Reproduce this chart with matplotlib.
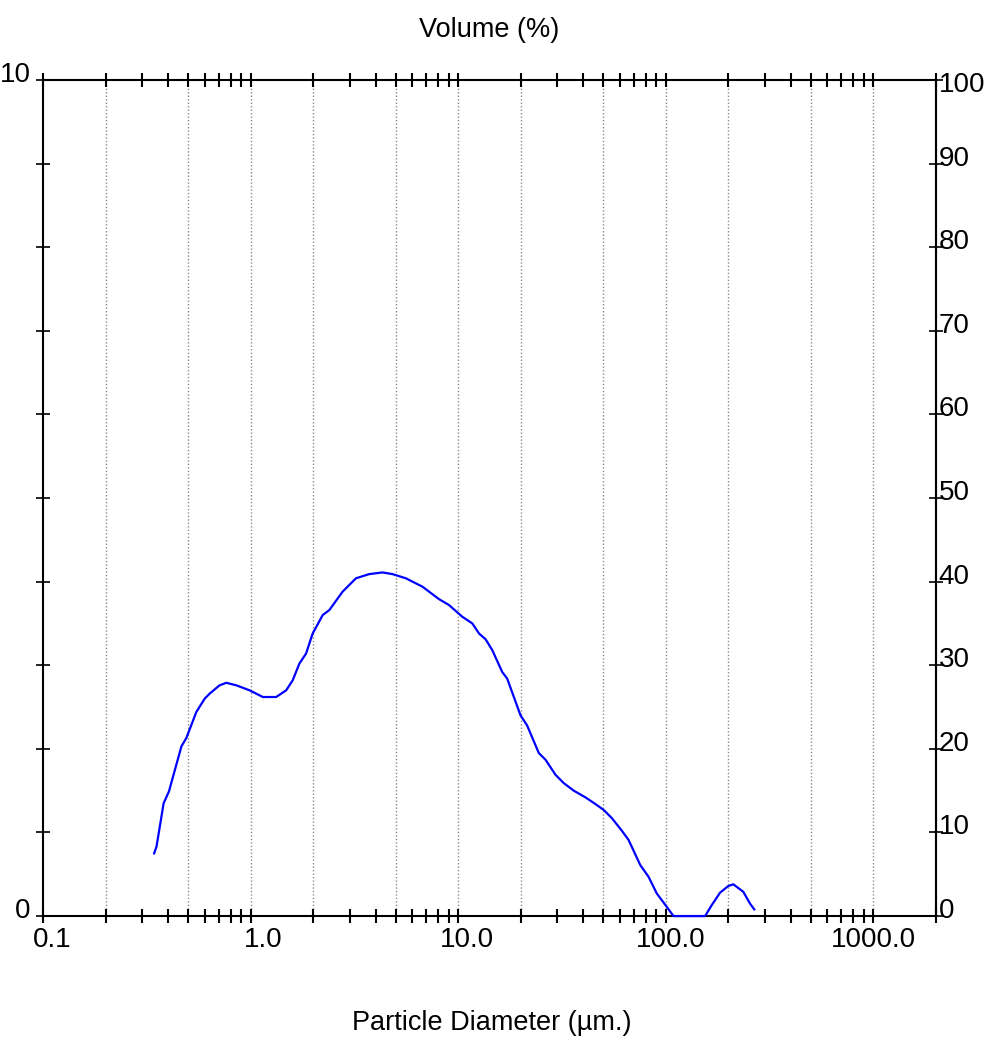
import matplotlib
matplotlib.use("Agg")
import matplotlib.pyplot as plt
from matplotlib.ticker import FixedLocator, LogLocator, NullFormatter
import matplotlib.transforms as mtransforms

# particle size distribution
diameter_um = [0.342, 0.351, 0.380, 0.403, 0.422, 0.463, 0.489, 0.546, 0.599,
               0.633, 0.707, 0.762, 0.851, 0.986, 1.062, 1.142, 1.325, 1.480,
               1.592, 1.714, 1.846, 1.987, 2.220, 2.390, 2.769, 3.212, 3.721,
               4.311, 4.817, 5.586, 6.713, 8.077, 9.02, 10.45, 11.68, 12.58,
               13.54, 14.58, 16.27, 17.20, 19.95, 21.46, 24.43, 26.32, 29.40,
               32.23, 36.00, 40.98, 45.78, 50.17, 55.02, 61.44, 66.18, 75.33,
               82.58, 90.50, 95.68, 101.1, 108.9, 154.7, 166.4, 182.6, 200.2,
               211.6, 236.4, 254.5, 266.9]
volume_pct = [0.75, 0.83, 1.35, 1.49, 1.67, 2.03, 2.13, 2.44, 2.60,
              2.66, 2.76, 2.79, 2.76, 2.70, 2.66, 2.62, 2.62, 2.70,
              2.82, 3.02, 3.14, 3.38, 3.60, 3.66, 3.88, 4.04, 4.09,
              4.11, 4.09, 4.04, 3.94, 3.79, 3.72, 3.58, 3.50, 3.38,
              3.31, 3.18, 2.92, 2.84, 2.40, 2.28, 1.95, 1.87, 1.69,
              1.59, 1.50, 1.42, 1.34, 1.27, 1.17, 1.02, 0.91, 0.61,
              0.47, 0.27, 0.19, 0.11, 0.0, 0.0, 0.13, 0.28, 0.36,
              0.38, 0.29, 0.15, 0.08]

grid_x = [0.2, 0.5, 1, 2, 5, 10, 20, 50, 100, 200, 500, 1000]
x_ticks = [0.1, 1, 10, 100, 1000]
x_labels = ["0.1", "1.0", "10.0", "100.0", "1000.0"]
left_ticks = list(range(0, 11))
left_labels = ["0"] + [""] * 9 + ["10"]
right_ticks = list(range(0, 101, 10))
right_labels = [str(v) for v in right_ticks]

plt.rcParams["font.family"] = ["Liberation Sans", "DejaVu Sans"]
TICK_FS = 20
LABEL_FS = 19.5

fig = plt.figure(figsize=(9.85, 10.41), dpi=100)
ax = fig.add_axes([0.044, 0.12, 0.906, 0.8032])


def shift(lab, dx, dy):
    lab.set_transform(lab.get_transform() +
                      mtransforms.ScaledTranslation(dx / 100, dy / 100, fig.dpi_scale_trans))


ax.plot(diameter_um, volume_pct, color="#0000ff", lw=1.6, zorder=3, clip_on=False)

ax.set_xscale("log")
ax.set_xlim(0.1, 2000)
ax.set_ylim(0, 10)

for g in grid_x:
    ax.axvline(g, color="#8a8a8a", lw=1.0, ls=(0, (1, 1.5)), zorder=1)

ax.xaxis.set_major_locator(FixedLocator(x_ticks))
ax.xaxis.set_minor_locator(LogLocator(base=10, subs=range(2, 10), numticks=20))
ax.xaxis.set_minor_formatter(NullFormatter())
ax.set_xticklabels(x_labels)
ax.tick_params(axis="x", which="both", direction="inout", length=10, width=1.5,
               top=True, labeltop=False, labelsize=TICK_FS, pad=3)

ax.yaxis.set_major_locator(FixedLocator(left_ticks))
ax.set_yticklabels(left_labels)
ax.tick_params(axis="y", which="both", direction="inout", length=10, width=1.2,
               labelsize=TICK_FS, pad=4)
for lab in ax.get_yticklabels():
    lab.set_verticalalignment("baseline")
    shift(lab, 0, -2)

for s in ax.spines.values():
    s.set_linewidth(1.5)

# x labels sit a little right of their ticks in the reference
dx = [9, 12, 9, 5, 0]
for lab, d in zip(ax.get_xticklabels(), dx):
    shift(lab, d, 0)

ax2 = ax.twinx()
ax2.set_ylim(0, 100)
ax2.yaxis.set_major_locator(FixedLocator(right_ticks))
ax2.set_yticklabels(right_labels)
ax2.tick_params(axis="y", direction="inout", length=10, width=1.2,
                labelsize=TICK_FS, pad=0)
for lab in ax2.get_yticklabels():
    lab.set_verticalalignment("baseline")
    shift(lab, -4, -2)
shift(ax2.get_yticklabels()[-1], 0, -10)
for name, s in ax2.spines.items():
    s.set_linewidth(1.5)
    if name != "right":
        s.set_visible(False)

fig.text(0.497, 0.971, "Volume (%)", ha="center", va="center", fontsize=LABEL_FS)
fig.text(0.499, 0.017, "Particle Diameter (\u00b5m.)", ha="center", va="center",
         fontsize=LABEL_FS)

fig.savefig("out.png", dpi=100)
